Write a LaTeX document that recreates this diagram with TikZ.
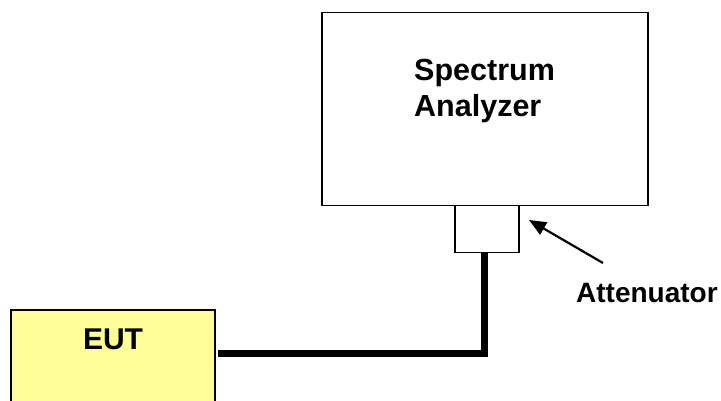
\documentclass[tikz,border=0pt]{standalone}
\usepackage{fontspec}
\setmainfont{Liberation Sans}
\usetikzlibrary{arrows.meta}
\definecolor{eutyellow}{HTML}{FFFF99}
\begin{document}
\begin{tikzpicture}[x=1pt,y=-1pt,
  lbl/.style={font=\bfseries\fontsize{28}{36}\selectfont,inner sep=0pt},
  cable/.style={line width=7pt},
  pointer/.style={line width=2.2pt,-{Triangle[length=17pt,width=14pt]}}]
\useasboundingbox (0,0) rectangle (721,401);
% Spectrum analyzer
\node[draw=black,line width=1.5pt,minimum width=326pt,minimum height=193pt,inner sep=0pt,anchor=north west] (sa) at (321,12) {};
\node[lbl,font=\bfseries\fontsize{30.5}{36}\selectfont,align=left,anchor=base west] (satext) at (414,117) {Spectrum\\Analyzer};
% Attenuator
\node[draw=black,line width=1.5pt,minimum width=64pt,minimum height=47pt,inner sep=0pt,anchor=north west] (att) at (454,205) {};
% EUT
\node[draw=black,line width=2pt,fill=eutyellow,minimum width=204pt,minimum height=120pt,inner sep=0pt,anchor=north west] (eut) at (10,309) {};
\node[lbl,font=\bfseries\fontsize{30}{36}\selectfont,anchor=base] (euttext) at (113,349) {EUT};
% cable
\coordinate (cablend) at (218,353);
\draw[cable] ([xshift=-2pt]att.south) -- ([xshift=-2pt]att.south |- cablend) -- (cablend);
% attenuator label
\node[lbl,anchor=base west] (attlabel) at (576,302) {Attenuator};
\coordinate (arrowstart) at (603,263);
\coordinate (arrowtip) at (529,220);
\draw[pointer] (arrowstart) -- (arrowtip);
\end{tikzpicture}
\end{document}
